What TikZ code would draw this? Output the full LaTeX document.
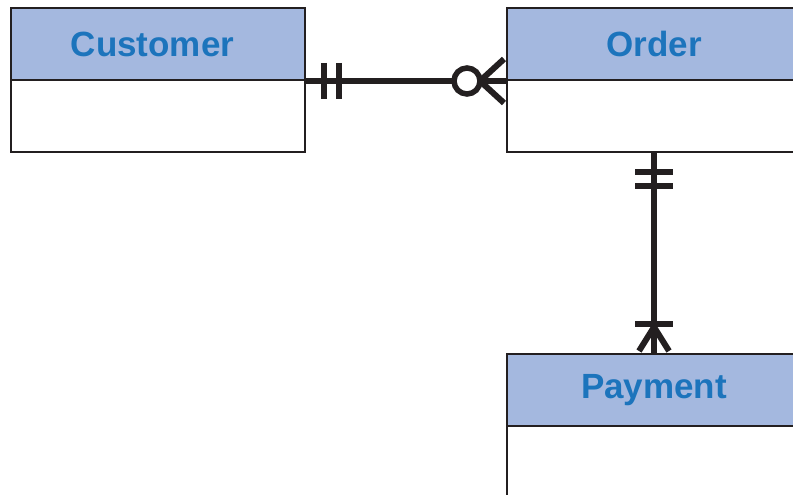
\documentclass[tikz,border=0pt]{standalone}
\usepackage{fontspec}
\setmainfont{Liberation Sans}
\usetikzlibrary{calc}
\definecolor{hdrfill}{HTML}{A4B8DF}
\definecolor{hdrtext}{HTML}{1C74BC}
\definecolor{ink}{HTML}{231F20}
\tikzset{
  hdr/.style={draw=ink, line width=2pt, fill=hdrfill, minimum width=294pt,
    minimum height=72pt, inner sep=0pt, text=hdrtext,
    font=\bfseries\fontsize{35}{38}\selectfont},
  bodybox/.style={draw=ink, line width=2pt, fill=white, minimum width=294pt,
    minimum height=72pt, inner sep=0pt},
  rel/.style={draw=ink, line width=6pt},
  tick/.style={draw=ink, line width=6pt},
}
\begin{document}
\begin{tikzpicture}[x=1pt,y=-1pt]
\clip (0,0) rectangle (793,495);
\fill[white] (0,0) rectangle (793,495);

% entities
\node[bodybox] (custb) at (158,116) {};
\node[hdr] (custh) at (158,44) {Customer\kern11pt};
\node[bodybox] (ordb) at (654,116) {};
\node[hdr] (ordh) at (654,44) {Order};
\node[bodybox] (payb) at (654,462) {};
\node[hdr] (payh) at (654,390) {\raisebox{-3pt}{Payment}};

% Customer ||----o< Order
\draw[rel] (custh.south east) -- (ordh.south west);
\draw[tick] ($(custh.south east)+(18,-18)$) -- ++(0,36);
\draw[tick] ($(custh.south east)+(33,-18)$) -- ++(0,36);
\draw[tick] ($(ordh.south west)+(-26,0)$) -- ($(ordh.south west)+(-2,-22)$);
\draw[tick] ($(ordh.south west)+(-26,0)$) -- ($(ordh.south west)+(-2,22)$);
\draw[ink, line width=5.5pt, fill=white] ($(ordh.south west)+(-39,0)$) circle[radius=13pt];

% Order ||----|< Payment
\draw[rel] (ordb.south) -- (payh.north);
\draw[tick] ($(ordb.south)+(-19,19)$) -- ++(38,0);
\draw[tick] ($(ordb.south)+(-19,33)$) -- ++(38,0);
\draw[tick] ($(payh.north)+(-19,-29)$) -- ++(38,0);
\draw[tick] ($(payh.north)+(0,-26)$) -- ($(payh.north)+(-15,-2)$);
\draw[tick] ($(payh.north)+(0,-26)$) -- ($(payh.north)+(15,-2)$);
\end{tikzpicture}
\end{document}
